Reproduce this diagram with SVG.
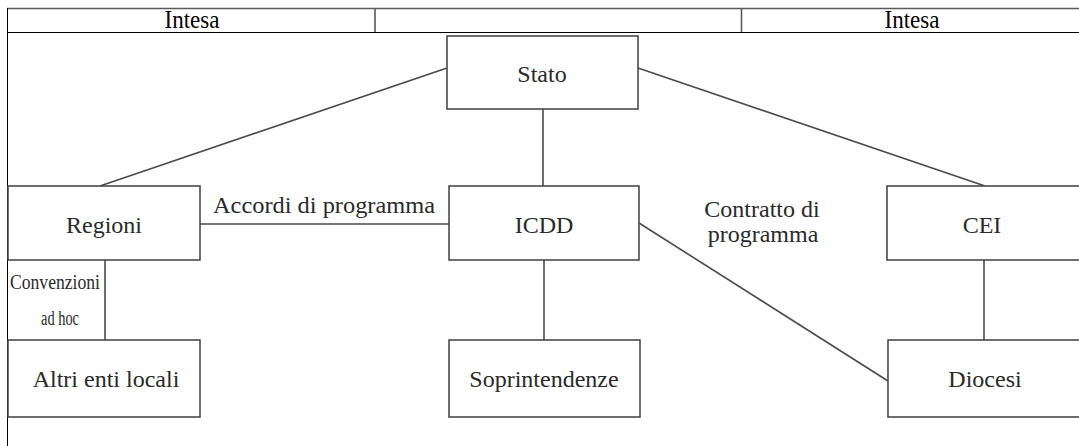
<svg xmlns="http://www.w3.org/2000/svg" width="1079" height="446" viewBox="0 0 1079 446">
<style>
.tb{fill:none;stroke:#000;stroke-width:1}
.tg{fill:none;stroke:#5a5a5a;stroke-width:1.6}
.hd{font-family:"Liberation Serif","Times New Roman",serif;font-size:26px;fill:#000;text-anchor:middle}
.box{fill:#fff;stroke:#4a4a4a;stroke-width:1.6}
.lbl{font-family:"Liberation Serif","Times New Roman",serif;font-size:24px;fill:#2a2a2a;text-anchor:middle}
.sm{font-family:"Liberation Serif","Times New Roman",serif;font-size:20px;fill:#2a2a2a;text-anchor:middle}
.ln{fill:none;stroke:#4a4a4a;stroke-width:1.6}
</style>
<rect width="1079" height="446" fill="#fff"/>
<g id="table">
<line class="tg" x1="7" y1="8.5" x2="1079" y2="8.5"/>
<line class="tg" x1="375" y1="8" x2="375" y2="32"/>
<line class="tg" x1="741.5" y1="8" x2="741.5" y2="32"/>
<line class="tb" x1="7" y1="32.5" x2="1079" y2="32.5"/>
<line class="tb" x1="7.5" y1="8" x2="7.5" y2="446"/>
<text class="hd" x="192" y="28" textLength="55" lengthAdjust="spacingAndGlyphs">Intesa</text>
<text class="hd" x="912" y="28" textLength="55" lengthAdjust="spacingAndGlyphs">Intesa</text>
</g>
<g id="connectors">
<line class="ln" x1="447" y1="68" x2="100" y2="186"/>
<line class="ln" x1="638" y1="68" x2="985" y2="186"/>
<line class="ln" x1="543" y1="109" x2="543" y2="186"/>
<line class="ln" x1="200" y1="224" x2="449" y2="224"/>
<line class="ln" x1="544" y1="260" x2="544" y2="340"/>
<line class="ln" x1="639" y1="223" x2="888" y2="381"/>
<line class="ln" x1="105" y1="260" x2="105" y2="340"/>
<line class="ln" x1="984" y1="260" x2="984" y2="340"/>
<text class="lbl" x="324" y="213" textLength="222" lengthAdjust="spacingAndGlyphs">Accordi di programma</text>
<text class="lbl" x="762" y="217">Contratto di</text>
<text class="lbl" x="763" y="242">programma</text>
<text class="sm" x="55" y="289" textLength="90" lengthAdjust="spacingAndGlyphs">Convenzioni</text>
<text class="sm" x="60" y="325" textLength="38" lengthAdjust="spacingAndGlyphs">ad hoc</text>
</g>
<g id="node-stato">
<rect class="box" x="447" y="36" width="191" height="73"/>
<text class="lbl" x="542" y="82">Stato</text>
</g>
<g id="node-regioni">
<rect class="box" x="8" y="186" width="192" height="74"/>
<text class="lbl" x="104" y="233">Regioni</text>
</g>
<g id="node-icdd">
<rect class="box" x="449" y="186" width="190" height="74"/>
<text class="lbl" x="544" y="233">ICDD</text>
</g>
<g id="node-cei">
<rect class="box" x="887" y="186" width="200" height="74"/>
<text class="lbl" x="982" y="233">CEI</text>
</g>
<g id="node-altri">
<rect class="box" x="8" y="340" width="192" height="77"/>
<text class="lbl" x="106" y="387">Altri enti locali</text>
</g>
<g id="node-soprintendenze">
<rect class="box" x="449" y="340" width="191" height="77"/>
<text class="lbl" x="544" y="387">Soprintendenze</text>
</g>
<g id="node-diocesi">
<rect class="box" x="888" y="340" width="200" height="77"/>
<text class="lbl" x="985" y="387">Diocesi</text>
</g>
</svg>
